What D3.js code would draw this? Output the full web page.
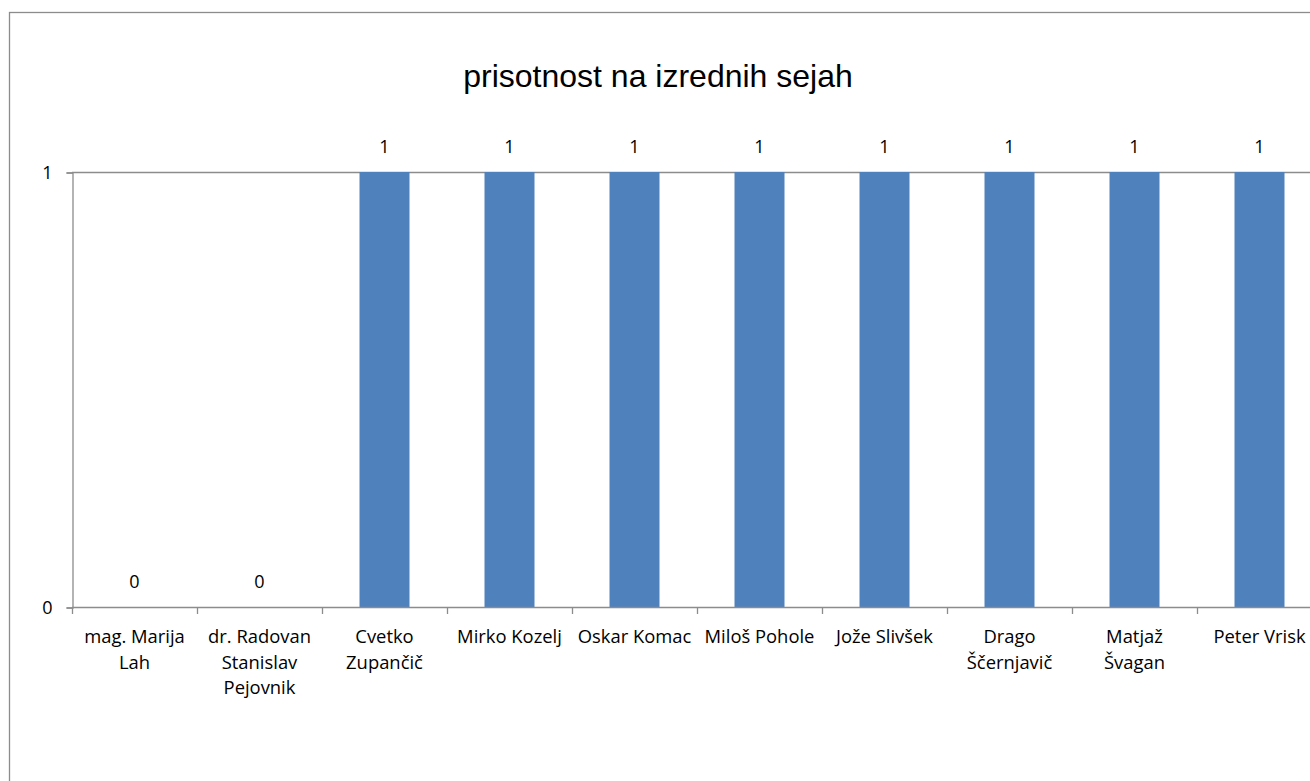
<!DOCTYPE html>
<html>
<head>
<meta charset="utf-8">
<script src="https://cdn.jsdelivr.net/npm/d3@7"></script>
<style>
body { margin: 0; background: #fff; }
text { font-family: "Open Sans", Lato, sans-serif; fill: #000; }
</style>
</head>
<body>
<script>
var members = ["mag. Marija Lah", "dr. Radovan Stanislav Pejovnik", "Cvetko Zupančič", "Mirko Kozelj",
  "Oskar Komac", "Miloš Pohole", "Jože Slivšek", "Drago Ščernjavič", "Matjaž Švagan", "Peter Vrisk"];
var attendance = [0, 0, 1, 1, 1, 1, 1, 1, 1, 1];
var yTicks = [0, 1];
var title = "prisotnost na izrednih sejah";

var width = 1310, height = 781;
var margin = {top: 172, left: 72, bottom: 174};

var svg = d3.select("body").append("svg")
  .attr("width", width)
  .attr("height", height);

// outer chart frame (runs off the right and bottom of the picture)
svg.append("rect")
  .attr("x", 9.5).attr("y", 12.5)
  .attr("width", 1400).attr("height", 900)
  .attr("fill", "none").attr("stroke", "#8c8c8c").attr("stroke-width", 1.3);

svg.append("text")
  .attr("x", 658).attr("y", 87)
  .attr("text-anchor", "middle")
  .style("font-family", "'Liberation Sans', Arial, sans-serif")
  .style("font-size", "32px")
  .text(title);

var x = d3.scaleBand()
  .domain(members)
  .range([margin.left, margin.left + 1250])
  .paddingInner(0.6)
  .paddingOuter(0.3);

var y = d3.scaleLinear()
  .domain([0, 1])
  .range([height - margin.bottom, margin.top]);

var step = x.step();

// gridline
svg.append("g").selectAll("line")
  .data(yTicks.filter(function(d) { return d > 0; }))
  .enter().append("line")
  .attr("x1", margin.left).attr("x2", margin.left + 1250)
  .attr("y1", function(d) { return Math.round(y(d)) + 0.5; })
  .attr("y2", function(d) { return Math.round(y(d)) + 0.5; })
  .attr("stroke", "#8c8c8c").attr("stroke-width", 1.3);

svg.append("g").selectAll("rect")
  .data(members)
  .enter().append("rect")
  .attr("x", function(d) { return x(d); })
  .attr("width", x.bandwidth())
  .attr("y", function(d, i) { return y(attendance[i]); })
  .attr("height", function(d, i) { return y(0) - y(attendance[i]); })
  .attr("fill", "#4f81bd");

// data labels
svg.append("g").selectAll("text")
  .data(members)
  .enter().append("text")
  .attr("x", function(d) { return x(d) + x.bandwidth() / 2; })
  .attr("y", function(d, i) { return y(attendance[i]) - 19; })
  .attr("text-anchor", "middle")
  .style("font-size", "18px")
  .text(function(d, i) { return attendance[i]; });

// y axis
var yAxis = d3.axisLeft(y).tickValues(yTicks).tickSize(6).tickPadding(14).tickFormat(d3.format("d"));
var gy = svg.append("g")
  .attr("transform", "translate(" + (margin.left + 0.5) + ",0.5)")
  .call(yAxis);
gy.select(".domain").attr("stroke", "#8c8c8c").attr("stroke-width", 1.3);
gy.selectAll(".tick line").attr("stroke", "#8c8c8c").attr("stroke-width", 1.3);
gy.selectAll(".tick text").style("font-size", "18px").attr("dy", "0.35em");

// x axis with ticks on category boundaries
var bounds = d3.range(members.length + 1).map(function(i) { return margin.left + i * step; });
var gx = svg.append("g");
gx.append("line")
  .attr("x1", margin.left).attr("x2", margin.left + 1250)
  .attr("y1", Math.round(y(0)) + 0.5).attr("y2", Math.round(y(0)) + 0.5)
  .attr("stroke", "#8c8c8c").attr("stroke-width", 1.3);
gx.selectAll("line.tk")
  .data(bounds)
  .enter().append("line")
  .attr("class", "tk")
  .attr("x1", function(d) { return d + 0.5; }).attr("x2", function(d) { return d + 0.5; })
  .attr("y1", y(0)).attr("y2", y(0) + 7)
  .attr("stroke", "#8c8c8c").attr("stroke-width", 1.3);

var labels = gx.selectAll("text")
  .data(members)
  .enter().append("text")
  .attr("x", function(d) { return x(d) + x.bandwidth() / 2; })
  .attr("y", y(0) + 36)
  .attr("text-anchor", "middle")
  .style("font-size", "18.4px")
  .text(function(d) { return d; });

labels.each(function(d) {
  var t = d3.select(this), words = d.split(" "), line = [], n = 0;
  var cx = t.attr("x"), cy = +t.attr("y");
  t.text(null);
  var span = t.append("tspan").attr("x", cx).attr("y", cy);
  words.forEach(function(w) {
    line.push(w);
    span.text(line.join(" "));
    if (span.node().getComputedTextLength() > 117 && line.length > 1) {
      line.pop();
      span.text(line.join(" "));
      line = [w];
      n++;
      span = t.append("tspan").attr("x", cx).attr("y", cy + n * 25.5).text(w);
    }
  });
});
</script>
</body>
</html>
